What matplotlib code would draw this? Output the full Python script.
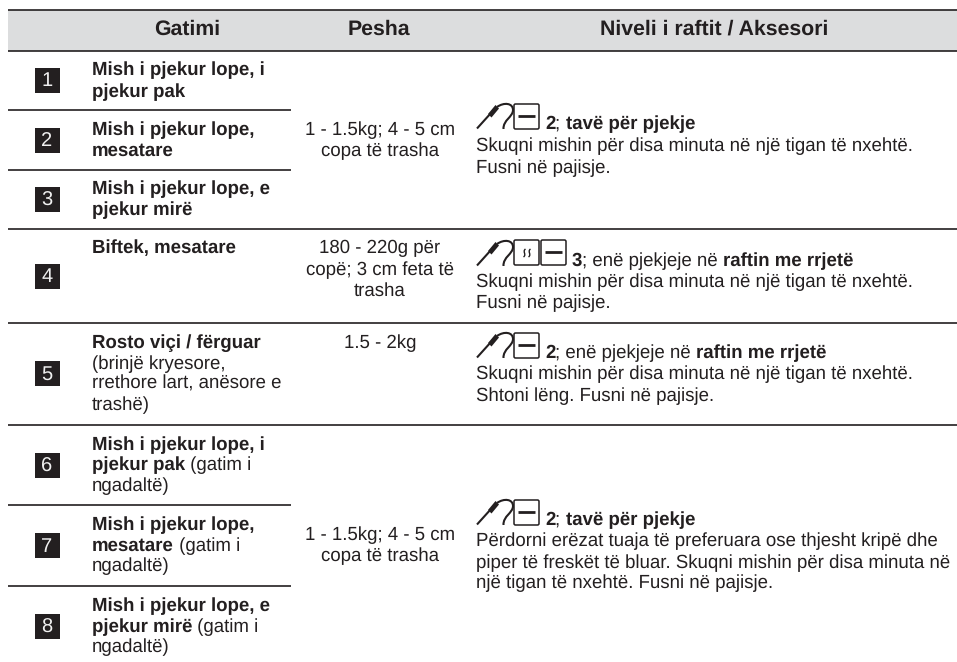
import matplotlib
matplotlib.use("Agg")
import matplotlib.pyplot as plt
from matplotlib.patches import Rectangle, FancyBboxPatch, PathPatch, Polygon
from matplotlib.path import Path

plt.rcParams['font.family'] = ['Liberation Sans', 'DejaVu Sans']
plt.rcParams['text.hinting'] = 'no_hinting'
plt.rcParams['text.hinting_factor'] = 8
FS = 13.42
INK = '#231f20'

headers = ['Gatimi', 'Pesha', 'Niveli i raftit / Aksesori']
row_numbers = ['1', '2', '3', '4', '5', '6', '7', '8']
dish_lines = [
    [[('Mish i pjekur lope, i', True)], [('pjekur pak', True)]],
    [[('Mish i pjekur lope,', True)], [('mesatare', True)]],
    [[('Mish i pjekur lope, e', True)], [('pjekur mirë', True)]],
    [[('Biftek, mesatare', True)]],
    [[('Rosto viçi / fërguar', True)], [('(brinjë kryesore,', False)], [('rrethore lart, anësore e', False)], [('trashë)', False)]],
    [[('Mish i pjekur lope, i', True)], [('pjekur pak', True), (' (gatim i', False)], [('ngadaltë)', False)]],
    [[('Mish i pjekur lope,', True)], [('mesatare', True), (' (gatim i', False)], [('ngadaltë)', False)]],
    [[('Mish i pjekur lope, e', True)], [('pjekur mirë', True), (' (gatim i', False)], [('ngadaltë)', False)]],
]
weight_lines = [
    ['1 - 1.5kg; 4 - 5 cm', 'copa të trasha'],
    ['180 - 220g për', 'copë; 3 cm feta të', 'trasha'],
    ['1.5 - 2kg'],
    ['1 - 1.5kg; 4 - 5 cm', 'copa të trasha'],
]
shelf_blocks = [
    [[('2', True), ('; ', False), ('tavë për pjekje', True)],
     [('Skuqni mishin për disa minuta në një tigan të nxehtë.', False)],
     [('Fusni në pajisje.', False)]],
    [[('3', True), ('; enë pjekjeje në ', False), ('raftin me rrjetë', True)],
     [('Skuqni mishin për disa minuta në një tigan të nxehtë.', False)],
     [('Fusni në pajisje.', False)]],
    [[('2', True), ('; enë pjekjeje në ', False), ('raftin me rrjetë', True)],
     [('Skuqni mishin për disa minuta në një tigan të nxehtë.', False)],
     [('Shtoni lëng. Fusni në pajisje.', False)]],
    [[('2', True), ('; ', False), ('tavë për pjekje', True)],
     [('Përdorni erëzat tuaja të preferuara ose thjesht kripë dhe', False)],
     [('piper të freskët të bluar. Skuqni mishin për disa minuta në', False)],
     [('një tigan të nxehtë. Fusni në pajisje.', False)]],
]

# layout (pixel rows of the page)
square_top = [68, 128, 187, 264, 361, 453, 533, 614]
dish_base = [[75, 97], [135, 156], [194, 215], [253],
             [348, 369, 389, 410], [450, 470, 491], [530, 551, 571], [611, 632, 652]]
weight_base = [[135, 156], [253, 275, 296], [348], [540, 561]]
shelf_base = [[129, 151, 173], [266, 287, 308], [358, 379, 401], [525, 546, 568, 588]]
full_rules = [10, 51, 229, 323, 425]
short_rules = [110, 170, 505, 586]

fig = plt.figure(figsize=(9.57, 6.62), dpi=100)
ax = fig.add_axes([0, 0, 1, 1])
ax.set_xlim(0, 957)
ax.set_ylim(662, 0)
ax.axis('off')
renderer = fig.canvas.get_renderer()

ax.add_patch(Rectangle((8, 10), 949, 41, fc='#dcddde', ec='none'))
for y in full_rules:
    ax.plot([8, 957], [y, y], color=INK, lw=1.2, solid_capstyle='butt')
for y in short_rules:
    ax.plot([8, 291], [y, y], color=INK, lw=1.2, solid_capstyle='butt')

for text, x in zip(headers, [187.5, 379, 714.5]):
    ax.text(x, 35, text, ha='center', va='baseline', fontsize=15.35,
            fontweight='bold', color=INK)

for n, top in zip(row_numbers, square_top):
    ax.add_patch(Rectangle((35, top), 25, 25, fc=INK, ec='none'))
    ax.text(47, top + 18.5, n, ha='center', va='baseline', fontsize=14.5, color='#f0f0f0')


def runs(x, y, parts, size=FS):
    for s, bold in parts:
        t = ax.text(x, y, s, fontsize=size, color=INK, va='baseline', ha='left',
                    fontweight='bold' if bold else 'normal')
        x += t.get_window_extent(renderer).width
    return x


for lines, bases in zip(dish_lines, dish_base):
    for parts, y in zip(lines, bases):
        runs(92, y, parts)

for lines, bases in zip(weight_lines, weight_base):
    for line, y in zip(lines, bases):
        ax.text(380, y, line, ha='center', va='baseline', fontsize=FS, color=INK)


def probe(x, y):
    # meat-probe pictogram, x is its left edge and y the baseline of the line
    ax.plot([x, x + 14], [y - 0.5, y - 16], color=INK, lw=1.5, solid_capstyle='butt')
    ax.add_patch(Polygon([(x + 11, y - 15), (x + 14.5, y - 11.5), (x + 22, y - 20.5),
                          (x + 18.5, y - 24)], closed=True, fc=INK, ec='none', zorder=5))
    verts = [(x + 20, y - 22), (x + 27, y - 27), (x + 36, y - 26), (x + 36, y - 19),
             (x + 36, y - 12), (x + 26, y - 9), (x + 26.5, y)]
    codes = [Path.MOVETO] + [Path.CURVE4] * 6
    ax.add_patch(PathPatch(Path(verts, codes), fc='none', ec=INK, lw=1.5))


def box(x, y, w=25, h=25):
    ax.add_patch(FancyBboxPatch((x, y), w, h, boxstyle='round,pad=0,rounding_size=1.5',
                                fc='white', ec=INK, lw=1.1))


def grill(x, y):
    box(x, y)
    ax.plot([x + 4, x + 21], [y + 11.5, y + 11.5], color=INK, lw=2.0, solid_capstyle='butt')


def steam(x, y):
    box(x, y)
    for dx in (10.5, 15.5):
        verts = [(x + dx + 1, y + 9), (x + dx - 2.5, y + 11.5), (x + dx + 2.5, y + 14.5), (x + dx - 1, y + 17)]
        codes = [Path.MOVETO] + [Path.CURVE4] * 3
        ax.add_patch(PathPatch(Path(verts, codes), fc='none', ec=INK, lw=1.0))


for k, (bases, block) in enumerate(zip(shelf_base, shelf_blocks)):
    b = bases[0]
    probe(477, b)
    if k == 1:
        steam(514, b - 26)
        grill(541, b - 26)
        tx = 572
    else:
        grill(514, b - 25)
        tx = 545
    runs(tx, b, block[0])
    for parts, y in zip(block[1:], bases[1:]):
        runs(476, y, parts)

fig.savefig('out.png', dpi=100)
